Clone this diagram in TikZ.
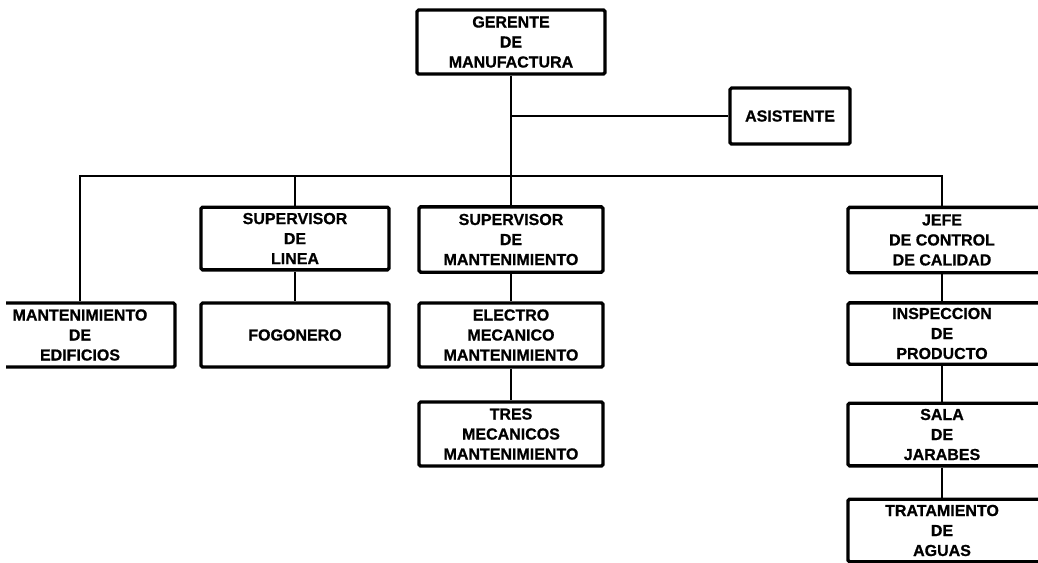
\documentclass[tikz,border=0pt]{standalone}
\usepackage{fontspec}
\setmainfont{Liberation Sans}[BoldFeatures={FakeBold=0.8}]
\begin{document}
\begin{tikzpicture}[x=0.75pt,y=-0.75pt,
  boxfont/.style={font=\fontsize{12}{15}\selectfont\bfseries, align=center},
  orgbox/.style={draw, line width=2.5pt, rounded corners=1.2pt, boxfont,
    inner sep=0pt, minimum width=141pt, minimum height=48pt},
  % boxes of the right column run past the page edge; their text stays on the connector line
  rbox/.style={orgbox, minimum width=153pt},
  rtext/.style={boxfont, inner sep=0pt, xshift=-6pt},
  link/.style={line width=1.1pt}]
\useasboundingbox (0,0) rectangle (1038,562);
\clip (6,0) rectangle (1038,562);

% management and assistant
\node[orgbox] (ger) at (511,42) {GERENTE\\DE\\MANUFACTURA};
\node[orgbox, minimum width=90pt, minimum height=42pt] (asis) at (790,116) {ASISTENTE};

% second level
\node[orgbox, minimum height=47pt] (supl) at (295,238.5) {SUPERVISOR\\DE\\LINEA};
\node[orgbox, minimum width=138pt, minimum height=49pt] (supm) at (511,239.5) {SUPERVISOR\\DE\\MANTENIMIENTO};
\node[rbox, minimum height=49pt, label={[rtext]center:{JEFE\\DE CONTROL\\DE CALIDAD}}] (jefe) at (950,240) {};

% third level
\node[orgbox, minimum width=142.5pt] (mant) at (80,335) {MANTENIMIENTO\\DE\\EDIFICIOS};
\node[orgbox] (fog) at (295,335) {FOGONERO};
\node[orgbox, minimum width=138pt] (elec) at (511,335) {ELECTRO\\MECANICO\\MANTENIMIENTO};
\node[rbox, minimum height=46pt, label={[rtext]center:{INSPECCION\\DE\\PRODUCTO}}] (insp) at (950,333.5) {};

% lower levels
\node[orgbox, minimum width=138pt] (tres) at (511,434) {TRES\\MECANICOS\\MANTENIMIENTO};
\node[rbox, minimum height=47pt, label={[rtext]center:{SALA\\DE\\JARABES}}] (sala) at (950,434.5) {};
\node[rbox, minimum height=47pt, label={[rtext]center:{TRATAMIENTO\\DE\\AGUAS}}] (trat) at (950,530.5) {};

% connectors
\coordinate (ja) at (511,116);
\coordinate (jb) at (511,176);
\coordinate (bl) at (80,176);
\coordinate (br) at (942,176);
\draw[link] (ger.south) -- (jb);
\draw[link] (ja) -- (asis.west);
\draw[link] (mant.north) -- (bl) -- (br) -- (br |- jefe.north);
\draw[link] (supl.north) -- (supl.north |- bl);
\draw[link] (supm.north) -- (jb);
\draw[link] (supl.south) -- (fog.north);
\draw[link] (supm.south) -- (elec.north);
\draw[link] (elec.south) -- (tres.north);
\draw[link] (br |- jefe.south) -- (br |- insp.north);
\draw[link] (br |- insp.south) -- (br |- sala.north);
\draw[link] (br |- sala.south) -- (br |- trat.north);
\end{tikzpicture}
\end{document}
